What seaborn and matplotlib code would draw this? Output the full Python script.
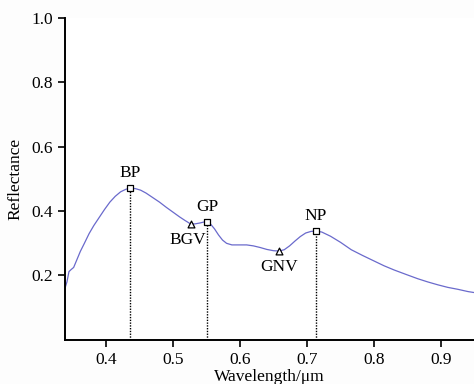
import numpy as np
import pandas as pd
import seaborn as sns
import matplotlib
matplotlib.use('Agg')
import matplotlib.pyplot as plt

# spectrum
wavelength = [0.339, 0.342, 0.345, 0.348, 0.352, 0.357, 0.362, 0.368, 0.375, 0.382,
              0.390, 0.398, 0.406, 0.414, 0.422, 0.430, 0.436, 0.444, 0.452, 0.460,
              0.470, 0.480, 0.490, 0.500, 0.510, 0.518, 0.525, 0.532, 0.540, 0.546,
              0.551, 0.556, 0.562, 0.568, 0.574, 0.580, 0.588, 0.598, 0.610, 0.620,
              0.630, 0.640, 0.650, 0.658, 0.666, 0.674, 0.682, 0.690, 0.698, 0.706,
              0.713, 0.722, 0.735, 0.750, 0.766, 0.783, 0.800, 0.815, 0.830, 0.848,
              0.865, 0.880, 0.895, 0.910, 0.925, 0.940, 0.949]
reflectance = [0.160, 0.180, 0.212, 0.218, 0.225, 0.250, 0.275, 0.300, 0.330, 0.355,
               0.380, 0.405, 0.428, 0.446, 0.460, 0.468, 0.471, 0.470, 0.465, 0.456,
               0.442, 0.428, 0.412, 0.397, 0.382, 0.371, 0.362, 0.360, 0.363, 0.366,
               0.366, 0.360, 0.345, 0.326, 0.310, 0.300, 0.295, 0.295, 0.295, 0.292,
               0.287, 0.281, 0.277, 0.276, 0.280, 0.292, 0.307, 0.321, 0.332, 0.337,
               0.338, 0.335, 0.322, 0.303, 0.280, 0.262, 0.245, 0.230, 0.217, 0.203,
               0.190, 0.180, 0.171, 0.163, 0.157, 0.150, 0.147]

peak_names = ['BP', 'GP', 'NP']
peak_x = [0.436, 0.551, 0.713]
peak_y = [0.471, 0.366, 0.338]
valley_names = ['BGV', 'GNV']
valley_x = [0.527, 0.658]
valley_y = [0.360, 0.276]

df = pd.DataFrame({'wl': wavelength, 'r': reflectance})

sns.set_style('ticks')
plt.rcParams['font.family'] = ['Liberation Serif', 'DejaVu Serif']
plt.rcParams['text.color'] = 'black'
plt.rcParams['axes.labelcolor'] = 'black'
plt.rcParams['xtick.color'] = 'black'
plt.rcParams['ytick.color'] = 'black'
fig = plt.figure(figsize=(4.74, 3.84), dpi=100)
ax = fig.add_axes([0.137, 0.115, 0.863, 0.838])

sns.lineplot(data=df, x='wl', y='r', color='#6a6acc', linewidth=0.9, ax=ax)

# dotted drop lines from the peaks
ax.vlines(peak_x, 0, peak_y, colors='black', linestyles=(0, (1, 1)), linewidth=1.0)
ax.scatter(peak_x, peak_y, marker='s', s=22, facecolors='white', edgecolors='black',
           linewidths=0.9, zorder=5)
ax.scatter(valley_x, valley_y, marker='^', s=24, facecolors='white', edgecolors='black',
           linewidths=0.9, zorder=5)

for n, x, y in zip(peak_names, peak_x, peak_y):
    ax.text(x, y + 0.022, n, ha='center', va='bottom', fontsize=12.5)
ax.text(valley_x[0] - 0.005, valley_y[0] - 0.025, valley_names[0], ha='center', va='top', fontsize=12.5)
ax.text(valley_x[1], valley_y[1] - 0.025, valley_names[1], ha='center', va='top', fontsize=12.5)

ax.set_xlim(0.339, 0.949)
ax.set_ylim(0, 1.0)
ax.set_xticks([0.4, 0.5, 0.6, 0.7, 0.8, 0.9])
ax.set_yticks([0.2, 0.4, 0.6, 0.8, 1.0])
ax.tick_params(labelsize=12.5, length=5, width=1.2, direction='out', colors='black')
ax.set_xlabel('Wavelength/μm', fontsize=12.5, labelpad=1)
ax.set_ylabel('Reflectance', fontsize=12.5, labelpad=6)
for s in ['top', 'right']:
    ax.spines[s].set_visible(False)
for s in ['left', 'bottom']:
    ax.spines[s].set_linewidth(1.4)
    ax.spines[s].set_color('black')

plt.savefig('out.png', dpi=100, facecolor='#fdfdfd')
